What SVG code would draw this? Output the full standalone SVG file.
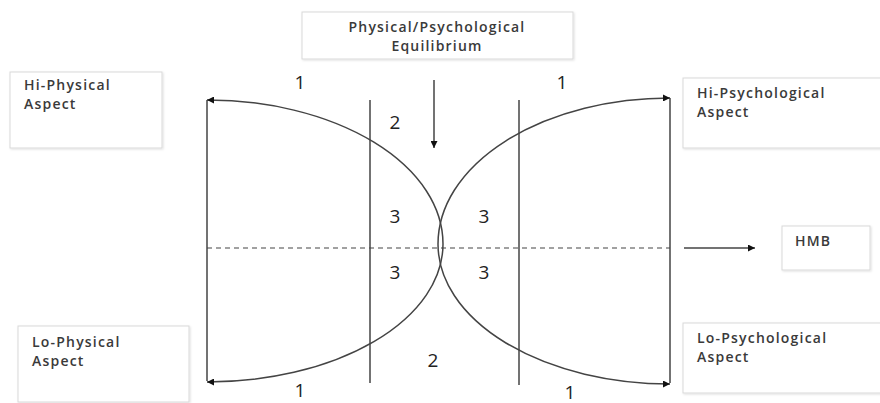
<svg xmlns="http://www.w3.org/2000/svg" width="880" height="403" viewBox="0 0 880 403">
<defs>
<marker id="ah" viewBox="0 0 10 10" refX="10" refY="5" markerWidth="10" markerHeight="7" markerUnits="userSpaceOnUse" orient="auto">
<path d="M0,0 L10,5 L0,10 z" fill="#111"/>
</marker>
<filter id="sh" x="-5%" y="-5%" width="110%" height="115%">
<feDropShadow dx="1" dy="1" stdDeviation="1" flood-color="#000" flood-opacity="0.12"/>
</filter>
</defs>
<style>
.box{fill:#fff;stroke:#d9d9d9;stroke-width:1;filter:url(#sh)}
.lbl{font-family:"Open Sans","Liberation Sans",sans-serif;font-size:14px;letter-spacing:1.2px;font-weight:600;fill:#3a3a3a}
.num{font-family:"Open Sans","Liberation Sans",sans-serif;font-size:19px;fill:#222}
.ln{fill:none;stroke:#444;stroke-width:1.5}
.dash{fill:none;stroke:#444;stroke-width:1.2;stroke-dasharray:5,4}
</style>
<rect width="880" height="403" fill="#fff"/>
<g id="equilibrium">
<rect class="box" x="302" y="12" width="271" height="47"/>
<text class="lbl" x="437" y="32" text-anchor="middle">Physical/Psychological</text>
<text class="lbl" x="437" y="51" text-anchor="middle">Equilibrium</text>
</g>
<g id="hi-physical">
<rect class="box" x="10" y="72" width="152" height="76"/>
<text class="lbl" x="24" y="90">Hi-Physical</text>
<text class="lbl" x="24" y="109">Aspect</text>
</g>
<g id="hi-psychological">
<rect class="box" x="683" y="78" width="200" height="70"/>
<text class="lbl" x="697" y="98">Hi-Psychological</text>
<text class="lbl" x="697" y="117">Aspect</text>
</g>
<g id="lo-physical">
<rect class="box" x="18" y="326" width="171" height="76"/>
<text class="lbl" x="32" y="347">Lo-Physical</text>
<text class="lbl" x="32" y="366">Aspect</text>
</g>
<g id="lo-psychological">
<rect class="box" x="683" y="323" width="200" height="70"/>
<text class="lbl" x="697" y="343">Lo-Psychological</text>
<text class="lbl" x="697" y="362">Aspect</text>
</g>
<g id="hmb">
<rect class="box" x="782" y="226" width="88" height="44"/>
<text class="lbl" x="795" y="246">HMB</text>
</g>
<g id="connectors">
<line class="ln" x1="207" y1="100" x2="207" y2="381"/>
<line class="ln" x1="670" y1="98" x2="670" y2="383"/>
<line class="ln" x1="370" y1="100" x2="370" y2="383"/>
<line class="ln" x1="519" y1="100" x2="519" y2="385"/>
<line class="dash" x1="207" y1="248" x2="670" y2="248"/>
<path class="ln" d="M443,244 A236,144 0 0 0 207,100" marker-end="url(#ah)"/>
<path class="ln" d="M443,244 A236,138 0 0 1 207,382" marker-end="url(#ah)"/>
<path class="ln" d="M438,244 A232,146 0 0 1 670,98" marker-end="url(#ah)"/>
<path class="ln" d="M438,244 A232,140 0 0 0 670,384" marker-end="url(#ah)"/>
<line class="ln" x1="434" y1="80" x2="434" y2="148" marker-end="url(#ah)"/>
<line class="ln" x1="684" y1="248" x2="755" y2="248" marker-end="url(#ah)"/>
</g>
<g id="numbers">
<text class="num" x="300" y="89" text-anchor="middle">1</text>
<text class="num" x="562" y="89" text-anchor="middle">1</text>
<text class="num" x="395" y="129" text-anchor="middle">2</text>
<text class="num" x="395" y="223" text-anchor="middle">3</text>
<text class="num" x="484" y="223" text-anchor="middle">3</text>
<text class="num" x="395" y="279" text-anchor="middle">3</text>
<text class="num" x="484" y="279" text-anchor="middle">3</text>
<text class="num" x="433" y="367" text-anchor="middle">2</text>
<text class="num" x="300" y="397" text-anchor="middle">1</text>
<text class="num" x="570" y="399" text-anchor="middle">1</text>
</g>
</svg>
